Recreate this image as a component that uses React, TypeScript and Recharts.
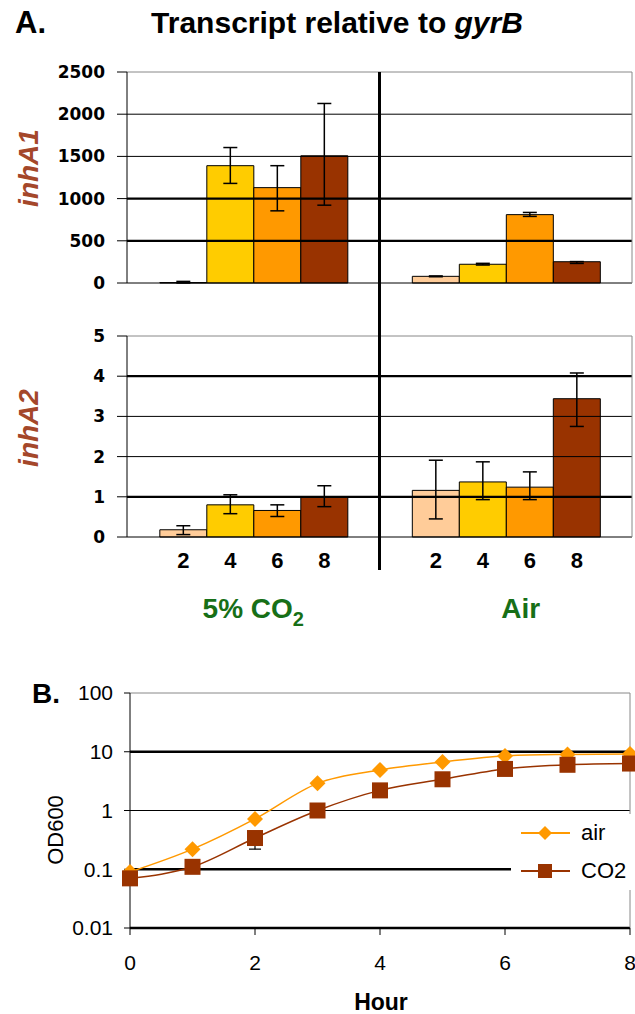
import React from 'react';
import {
  BarChart,
  Bar,
  XAxis,
  YAxis,
  ReferenceLine,
  ErrorBar,
  LabelList,
  LineChart,
  Line,
  Legend,
} from 'recharts';

// ---------------- Panel A data ----------------
const conditions = ['5% CO2', 'Air'];
const hourLabels = ['2', '4', '6', '8'];

// inhA1 transcript relative to gyrB (hours 2, 4, 6, 8)
const inhA1CO2 = [5, 1390, 1130, 1507];
const inhA1CO2ErrLow = [5, 210, 275, 585];
const inhA1CO2ErrHigh = [14, 215, 260, 620];
const inhA1Air = [79, 222, 810, 252];
const inhA1AirErrLow = [5, 9, 21, 20];
const inhA1AirErrHigh = [5, 11, 26, 2];
const inhA1Ticks = [0, 500, 1000, 1500, 2000, 2500];

// inhA2 transcript relative to gyrB (hours 2, 4, 6, 8)
const inhA2CO2 = [0.18, 0.8, 0.66, 0.995];
const inhA2CO2ErrLow = [0.12, 0.22, 0.15, 0.24];
const inhA2CO2ErrHigh = [0.1, 0.25, 0.14, 0.28];
const inhA2Air = [1.16, 1.37, 1.24, 3.44];
const inhA2AirErrLow = [0.71, 0.44, 0.31, 0.69];
const inhA2AirErrHigh = [0.75, 0.5, 0.38, 0.64];
const inhA2Ticks = [0, 1, 2, 3, 4, 5];

// ---------------- Panel B data ----------------
const growthHours = [0, 1, 2, 3, 4, 5, 6, 7, 8];
const odAir = [0.09, 0.22, 0.72, 2.9, 4.9, 6.7, 8.5, 9.0, 9.2];
const odCO2 = [0.07, 0.11, 0.34, 1.0, 2.2, 3.4, 5.1, 6.0, 6.3];
const odCO2ErrLow = [0, 0, 0.12, 0, 0, 0, 0, 0, 0];
const odCO2ErrHigh = [0, 0, 0.1, 0, 0, 0, 0, 0, 0];
const odTicks = [0.01, 0.1, 1, 10, 100];
const hourTicks = [0, 2, 4, 6, 8];
const seriesNames = ['air', 'CO2'];

// ---------------- styles ----------------
const ARIAL = '"Liberation Sans", Arial, sans-serif';
const DEJAVU = '"DejaVu Sans", sans-serif';
const HOUR_COLORS = ['#FFCC99', '#FFCC00', '#FF9900', '#993300'];
const GREEN = '#176F17';
const BROWN = '#A4472A';
const AIR_COLOR = '#FF9900';
const CO2_COLOR = '#993300';

const buildBarRows = (
  co2: number[], co2Lo: number[], co2Hi: number[],
  air: number[], airLo: number[], airHi: number[],
) =>
  conditions.map((c, gi) => {
    const vals = gi === 0 ? co2 : air;
    const lo = gi === 0 ? co2Lo : airLo;
    const hi = gi === 0 ? co2Hi : airHi;
    const row: any = { condition: c };
    hourLabels.forEach((h, i) => {
      row['v' + h] = vals[i];
      row['e' + h] = [lo[i], hi[i]];
      row['t' + h] = h;
    });
    return row;
  });

const inhA1Rows = buildBarRows(inhA1CO2, inhA1CO2ErrLow, inhA1CO2ErrHigh, inhA1Air, inhA1AirErrLow, inhA1AirErrHigh);
const inhA2Rows = buildBarRows(inhA2CO2, inhA2CO2ErrLow, inhA2CO2ErrHigh, inhA2Air, inhA2AirErrLow, inhA2AirErrHigh);

const growthRows = growthHours.map((h, i) => ({
  hour: h,
  air: odAir[i],
  co2: odCO2[i],
  co2Err: odCO2ErrLow[i] > 0 || odCO2ErrHigh[i] > 0 ? [odCO2ErrLow[i], odCO2ErrHigh[i]] : null,
}));

// layout constants
const PLOT_LEFT = 127;
const PLOT_RIGHT = 632;
const DIV_X = (PLOT_LEFT + PLOT_RIGHT) / 2;

const yTick = { fill: '#000', fontSize: 17, fontWeight: 'bold', fontFamily: DEJAVU };

const gridLines = (ticks: number[], thick: number[]) =>
  ticks.map((t, i) => (
    <ReferenceLine
      key={'g' + t}
      y={t}
      stroke={i === ticks.length - 1 ? '#888' : '#000'}
      strokeWidth={thick.includes(t) ? 2.3 : 1}
    />
  ));

const ConditionTick = (props: any) => {
  const { x, y, payload } = props;
  const label: string = String(payload.value);
  const isCO2 = label.endsWith('CO2');
  const dx = isCO2 ? 0 : 15;
  return (
    <text
      x={x + dx}
      y={y + 81}
      textAnchor="middle"
      fill={GREEN}
      fontFamily={ARIAL}
      fontWeight="bold"
      fontSize={28}
    >
      {isCO2 ? (
        <>
          <tspan>{label.slice(0, -1)}</tspan>
          <tspan fontSize={20} dy={8}>{label.slice(-1)}</tspan>
        </>
      ) : (
        label
      )}
    </text>
  );
};

const renderBars = (withLabels: boolean) =>
  hourLabels.map((h, i) => (
    <Bar
      key={h}
      dataKey={'v' + h}
      fill={HOUR_COLORS[i]}
      stroke="#000"
      strokeWidth={1}
      isAnimationActive={false}
    >
      <ErrorBar dataKey={'e' + h} width={7} stroke="#000" strokeWidth={1.5} />
      {withLabels && (
        <LabelList
          dataKey={'t' + h}
          position="bottom"
          offset={15}
          fill="#000"
          fontSize={22}
          fontWeight="bold"
          fontFamily={ARIAL}
        />
      )}
    </Bar>
  ));

const Diamond = (props: any) => {
  const { cx, cy } = props;
  if (cx == null || cy == null) return null;
  const r = 8;
  return (
    <path
      d={`M${cx} ${cy - r} L${cx + r} ${cy} L${cx} ${cy + r} L${cx - r} ${cy} Z`}
      fill={AIR_COLOR}
    />
  );
};

const Square = (props: any) => {
  const { cx, cy } = props;
  if (cx == null || cy == null) return null;
  const r = 8;
  return <rect x={cx - r} y={cy - r} width={2 * r} height={2 * r} fill={CO2_COLOR} />;
};

const LegendContent = () => (
  <div style={{ background: '#fff', width: 124, height: 76, fontFamily: ARIAL }}>
    {seriesNames.map((name, i) => {
      const color = i === 0 ? AIR_COLOR : CO2_COLOR;
      return (
        <div key={name} style={{ display: 'flex', alignItems: 'center', height: 38 }}>
          <svg width={66} height={20} style={{ display: 'block' }}>
            <line x1={10} y1={10} x2={59} y2={10} stroke={color} strokeWidth={2} />
            {i === 0 ? (
              <path d="M34 3 L41 10 L34 17 L27 10 Z" fill={color} />
            ) : (
              <rect x={27} y={3} width={14} height={14} fill={color} />
            )}
          </svg>
          <span style={{ fontSize: 22, color: '#000', marginLeft: 4, lineHeight: 1 }}>{name}</span>
        </div>
      );
    })}
  </div>
);

export default function App() {
  return (
    <div
      style={{
        position: 'absolute',
        left: 0,
        top: 0,
        width: 635,
        height: 1014,
        background: '#fff',
        overflow: 'hidden',
        fontFamily: ARIAL,
      }}
    >
      {/* inhA1 */}
      <div style={{ position: 'absolute', left: 0, top: 0 }}>
        <BarChart
          width={635}
          height={300}
          data={inhA1Rows}
          margin={{ top: 72, right: 635 - PLOT_RIGHT, bottom: 17, left: PLOT_LEFT - 60 }}
          barGap={0}
          barCategoryGap="13%"
        >
          <XAxis dataKey="condition" hide />
          <YAxis
            domain={[0, 2500]}
            ticks={inhA1Ticks}
            interval={0}
            width={60}
            tickSize={10}
            tickMargin={12}
            axisLine={{ stroke: '#000' }}
            tickLine={{ stroke: '#000' }}
            tick={yTick}
          />
          {gridLines(inhA1Ticks, [500, 1000])}
          <ReferenceLine x="Air" position="end" stroke="#888" />
          {renderBars(false)}
        </BarChart>
      </div>

      {/* inhA2 */}
      <div style={{ position: 'absolute', left: 0, top: 300 }}>
        <BarChart
          width={635}
          height={337}
          data={inhA2Rows}
          margin={{ top: 36, right: 635 - PLOT_RIGHT, bottom: 0, left: PLOT_LEFT - 60 }}
          barGap={0}
          barCategoryGap="13%"
        >
          <XAxis
            dataKey="condition"
            height={100}
            axisLine={false}
            tickLine={false}
            tickSize={0}
            tickMargin={0}
            interval={0}
            tick={<ConditionTick />}
          />
          <YAxis
            domain={[0, 5]}
            ticks={inhA2Ticks}
            interval={0}
            width={60}
            tickSize={10}
            tickMargin={12}
            axisLine={{ stroke: '#000' }}
            tickLine={{ stroke: '#000' }}
            tick={yTick}
          />
          {gridLines(inhA2Ticks, [1, 4])}
          <ReferenceLine x="Air" position="end" stroke="#888" />
          {renderBars(true)}
        </BarChart>
      </div>

      {/* Panel B growth */}
      <div style={{ position: 'absolute', left: 0, top: 660 }}>
        <LineChart
          width={635}
          height={354}
          data={growthRows}
          margin={{ top: 33, right: 5, bottom: 0, left: 0 }}
        >
          <XAxis
            dataKey="hour"
            type="number"
            domain={[0, 8]}
            ticks={hourTicks}
            interval={0}
            height={86}
            tickSize={7}
            tickMargin={20}
            axisLine={{ stroke: '#000' }}
            tickLine={{ stroke: '#000' }}
            tick={{ fill: '#000', fontSize: 21, fontFamily: ARIAL }}
          />
          <YAxis
            type="number"
            scale="log"
            domain={[0.01, 100]}
            ticks={odTicks}
            interval={0}
            allowDataOverflow
            width={130}
            tickSize={6}
            tickMargin={11}
            tickFormatter={(v: number) => String(v)}
            axisLine={{ stroke: '#000' }}
            tickLine={{ stroke: '#000' }}
            tick={{ fill: '#000', fontSize: 21, fontFamily: ARIAL }}
          />
          {odTicks.map((t, i) => (
            <ReferenceLine
              key={'b' + t}
              y={t}
              stroke={i === odTicks.length - 1 ? '#888' : '#000'}
              strokeWidth={t === 1 ? 1.2 : i === odTicks.length - 1 ? 1 : 2.5}
            />
          ))}
          <ReferenceLine x={8} stroke="#888" />
          <Line
            dataKey="air"
            name={seriesNames[0]}
            type="monotone"
            stroke={AIR_COLOR}
            strokeWidth={1.5}
            dot={<Diamond />}
            activeDot={false}
            isAnimationActive={false}
          />
          <Line
            dataKey="co2"
            name={seriesNames[1]}
            type="monotone"
            stroke={CO2_COLOR}
            strokeWidth={1.5}
            dot={<Square />}
            activeDot={false}
            isAnimationActive={false}
          >
            <ErrorBar dataKey="co2Err" width={6} stroke="#000" strokeWidth={1.2} direction="y" />
          </Line>
          <Legend
            layout="vertical"
            align="center"
            verticalAlign="middle"
            content={<LegendContent />}
            wrapperStyle={{ left: 511, top: 154, width: 124, height: 76, margin: 0 }}
          />
        </LineChart>
      </div>

      {/* Titles, axis titles, divider */}
      <svg
        width={635}
        height={1014}
        style={{ position: 'absolute', left: 0, top: 0, pointerEvents: 'none', fontFamily: ARIAL }}
      >
        <text x={15} y={33} fontSize={31} fontWeight="bold" fill="#000">A.</text>
        <text x={337} y={33} textAnchor="middle" fontSize={30} fontWeight="bold" fill="#000">
          {'Transcript relative to '}
          <tspan fontStyle="italic">gyrB</tspan>
        </text>
        <text
          transform="translate(38,168) rotate(-90)"
          textAnchor="middle"
          fill={BROWN}
          fontSize={28}
          fontWeight="bold"
          fontStyle="italic"
        >
          inhA1
        </text>
        <text
          transform="translate(38,428) rotate(-90)"
          textAnchor="middle"
          fill={BROWN}
          fontSize={28}
          fontWeight="bold"
          fontStyle="italic"
        >
          inhA2
        </text>
        <line x1={DIV_X} y1={72} x2={DIV_X} y2={570} stroke="#000" strokeWidth={3} />
        <text x={32} y={703} fontSize={28} fontWeight="bold" fill="#000">B.</text>
        <text transform="translate(63,830) rotate(-90)" textAnchor="middle" fontSize={22} fill="#000">
          OD600
        </text>
        <text x={381} y={1010} textAnchor="middle" fontSize={23} fontWeight="bold" fill="#000">
          Hour
        </text>
      </svg>
    </div>
  );
}
